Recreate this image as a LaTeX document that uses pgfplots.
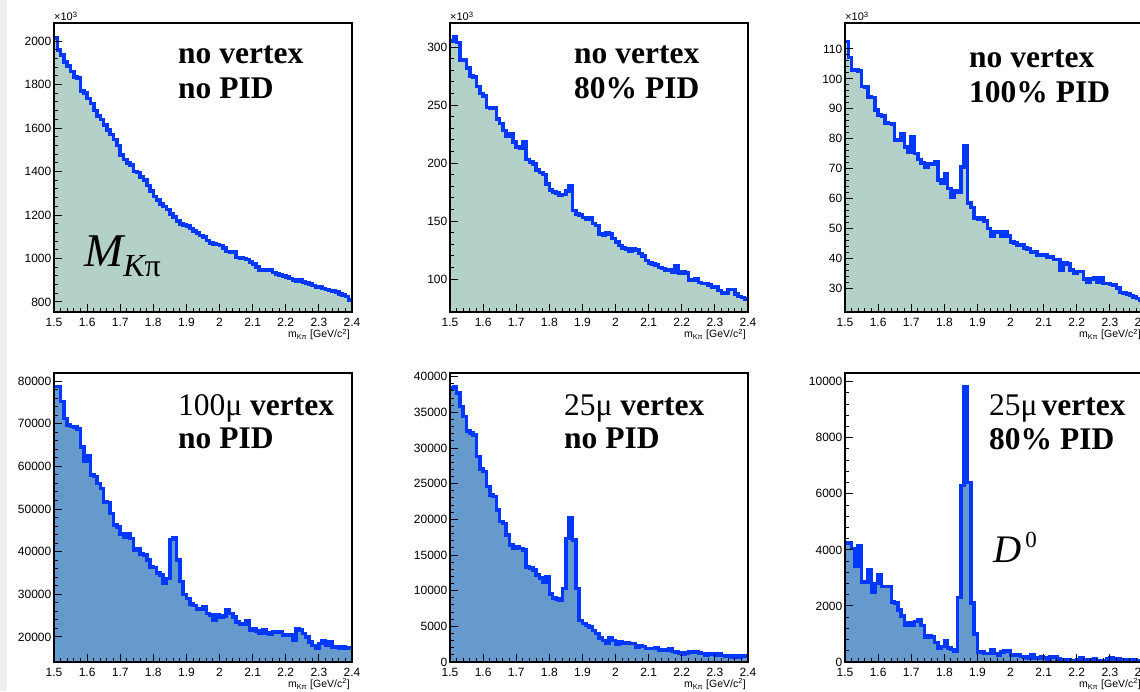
\documentclass[border=0pt]{standalone}
\usepackage{fontspec}
\setmainfont{Liberation Serif}
\newfontfamily\helv{Liberation Sans}
\usepackage{pgfplots}
\usepackage{pgfplotstable}
\pgfplotsset{compat=1.18}

\definecolor{fillg}{HTML}{B3D1C8}
\definecolor{fillb}{HTML}{6699CC}
\definecolor{hline}{HTML}{0038FF}

% bin left edges (0.01 wide), last row closes the final bin
% p1-p3 in units of 10^3
\pgfplotstableread{
x    p1   p2  p3    p4    p5    p6
1.50 2015 305 112.5 78700 38400 4250
1.51 1960 309 107.2 78700 38600 4250
1.52 1935 304 103   75200 37700 4050
1.53 1905 289 103   71200 35800 3400
1.54 1885 289 102.7 69700 34400 4150
1.55 1860 282 97.4  69400 32400 2850
1.56 1835 275 97.2  69300 32100 2850
1.57 1830 274 94    68800 31800 3280
1.58 1770 266 93.8  64500 28800 2500
1.59 1760 260 89.6  61200 27100 2800
1.60 1735 258 87.9  62400 26700 3100
1.61 1712 248 87.5  58000 24600 2700
1.62 1680 247 85.3  57600 23400 2700
1.63 1655 248 85.1  56000 23200 2700
1.64 1640 238 84.9  54800 21300 2150
1.65 1615 234 79.5  51700 19700 2100
1.66 1590 228 79.5  51500 19400 1850
1.67 1570 223 81.7  49000 17800 1650
1.68 1548 225 77.3  46200 16400 1300
1.69 1520 218 75.5  45800 15900 1400
1.70 1475 214 80.5  44200 16100 1300
1.71 1455 213 75    43500 15900 1450
1.72 1440 218 73    44300 15700 1500
1.73 1430 203 71.9  43100 13300 1300
1.74 1400 201 70.6  40300 13200 900
1.75 1395 199 71.5  40700 12900 950
1.76 1375 194 71.5  39500 12200 900
1.77 1360 192 72.2  39200 11800 700
1.78 1335 190 66.1  38000 11200 500
1.79 1310 182 65    36400 12000 550
1.80 1285 177 68.3  36300 9500  750
1.81 1268 175 63.3  35000 9000  500
1.82 1250 174 60.5  34500 8800  450
1.83 1240 172 62.7  32500 8700  400
1.84 1225 173 62.2  33700 10300 2300
1.85 1205 176 70.5  42900 17300 6300
1.86 1190 180 77.5  43300 20200 9800
1.87 1172 159 58.5  38000 17100 6400
1.88 1160 156 57    33000 10300 2100
1.89 1155 155 53.5  30000 5800  1000
1.90 1150 153 53    29000 5400  350
1.91 1138 152 53.5  27800 5100  350
1.92 1126 153 52.5  27400 4900  300
1.93 1116 148 50    26600 4400  300
1.94 1106 146 47.5  26600 4000  450
1.95 1098 139 49    27000 3400  300
1.96 1082 138 48.8  25500 3000  250
1.97 1072 140 47.5  25100 2600  350
1.98 1068 139 48.8  23900 3400  400
1.99 1064 135 47.5  25100 3000  400
2.00 1060 132 45.5  24700 2500  250
2.01 1048 129 45    24900 2800  250
2.02 1032 127 44.5  26300 2700  250
2.03 1030 126 44.5  25500 2700  200
2.04 1030 124 43.5  24700 2600  180
2.05 1005 126 43    23500 2600  130
2.06 1002 125 42    23100 2100  250
2.07 1000 122 42    23100 2300  150
2.08 995  120 41    23900 2200  120
2.09 985  116 41    21600 1900  200
2.10 975  114 41    22000 1900  150
2.11 962  113 40.5  21400 1900  100
2.12 948  112 40.5  20800 2000  180
2.13 945  110 39.5  21600 1600  180
2.14 946  109 39.5  21000 1700  100
2.15 950  108 36    20600 1700  80
2.16 935  108 38.5  21200 1900  80
2.17 930  106 38    21200 1500  80
2.18 924  111 36    21200 1400  50
2.19 920  105 35    20400 1300  60
2.20 916  106 35.5  20400 1100  80
2.21 908  105 35.5  20400 1300  150
2.22 900  99  33    19200 1400  80
2.23 896  99  32    22000 1500  50
2.24 900  100 33    21600 1400  80
2.25 893  97  33.5  20800 1300  120
2.26 888  96  32    20000 1200  50
2.27 882  96  33.5  18800 900   50
2.28 876  95  31.5  18000 1100  60
2.29 870  93  31.5  17300 1100  100
2.30 868  93  31.2  18500 900   150
2.31 862  90  31    19200 1100  80
2.32 858  88  30    18000 900   100
2.33 852  88  28.5  18800 800   50
2.34 850  91  28.3  17700 900   80
2.35 845  91  28    17800 700   70
2.36 838  87  27.5  17300 800   50
2.37 832  85  27    17700 700   80
2.38 825  84  26.5  17300 800   60
2.39 810  83  26    17500 800   50
2.40 810  83  26    17500 800   50
}\hist

\pgfplotsset{
  rootax/.style={
    scale only axis, width=298pt, height=289pt, anchor=south west,
    xmin=1.5, xmax=2.4,
    xtick={1.5,1.6,1.7,1.8,1.9,2,2.1,2.2,2.3,2.4},
    minor x tick num=4, minor y tick num=4,
    tick align=inside, xtick pos=bottom, ytick pos=left,
    major tick length=8pt, minor tick length=4pt,
    every tick/.append style={black, line width=1pt},
    axis line style={line width=1.2pt},
    axis on top,
    scaled ticks=false,
    /pgf/number format/1000 sep={},
    /pgf/number format/assume math mode=true,
    tick label style={font=\helv\fontsize{12}{12}\selectfont},
    xticklabel style={yshift=-3pt},
    yticklabel style={inner sep=0pt, xshift=-2.5pt},
  },
}
\newcommand\lab{\fontsize{31.5}{31.5}\selectfont\bfseries}
\newcommand\xlab{\helv\fontsize{10.5}{10.5}\selectfont m\textsubscript{Kπ} [GeV/c\textsuperscript{2}]}
\newcommand\kilo{\helv\fontsize{11}{11}\selectfont ×10\textsuperscript{3}}

\begin{document}
\begin{tikzpicture}
\path[use as bounding box] (0pt,0pt) rectangle (1140pt,691pt);
\fill[gray!13] (0pt,0pt) rectangle (7pt,691pt);

% ---- top row: no vertex cut
\begin{axis}[rootax, at={(54pt,379pt)}, ymin=754, ymax=2083, ytick={800,1000,...,2000}]
\addplot[fill=fillg, draw=none, const plot] table[x=x, y=p1]{\hist} \closedcycle;
\addplot[hline, line width=3.6pt, const plot] table[x=x, y=p1]{\hist};
\end{axis}
\begin{axis}[rootax, at={(450pt,379pt)}, ymin=71.6, ymax=320.7, ytick={100,150,...,300}]
\addplot[fill=fillg, draw=none, const plot] table[x=x, y=p2]{\hist} \closedcycle;
\addplot[hline, line width=3.6pt, const plot] table[x=x, y=p2]{\hist};
\end{axis}
\begin{axis}[rootax, at={(845pt,379pt)}, ymin=22, ymax=118.7, ytick={30,40,...,110}]
\addplot[fill=fillg, draw=none, const plot] table[x=x, y=p3]{\hist} \closedcycle;
\addplot[hline, line width=3.6pt, const plot] table[x=x, y=p3]{\hist};
\end{axis}

% ---- bottom row: vertex cut
\begin{axis}[rootax, at={(54pt,29pt)}, ymin=14130, ymax=81900, ytick={20000,30000,...,80000}]
\addplot[fill=fillb, draw=none, const plot] table[x=x, y=p4]{\hist} \closedcycle;
\addplot[hline, line width=3.6pt, const plot] table[x=x, y=p4]{\hist};
\end{axis}
\begin{axis}[rootax, at={(450pt,29pt)}, ymin=0, ymax=40520, ytick={0,5000,...,40000}]
\addplot[fill=fillb, draw=none, const plot] table[x=x, y=p5]{\hist} \closedcycle;
\addplot[hline, line width=3.6pt, const plot] table[x=x, y=p5]{\hist};
\end{axis}
\begin{axis}[rootax, at={(845pt,29pt)}, ymin=0, ymax=10310, ytick={0,2000,...,10000}]
\addplot[fill=fillb, draw=none, const plot] table[x=x, y=p6]{\hist} \closedcycle;
\addplot[hline, line width=3.6pt, const plot] table[x=x, y=p6]{\hist};
\end{axis}

% axis extras
\foreach \xx in {54,450,845} {
  \node[anchor=base west, inner sep=0pt] at (\xx pt,670pt) {\kilo};
  \node[anchor=base east, inner sep=0pt] at (\xx pt+296pt,353pt) {\xlab};
  \node[anchor=base east, inner sep=0pt] at (\xx pt+296pt,3.5pt) {\xlab};
}

% annotations
\node[anchor=base west, inner sep=0pt, font=\lab] at (178pt,627pt) {no vertex};
\node[anchor=base west, inner sep=0pt, font=\lab] at (178pt,592pt) {no PID};
\node[anchor=base west, inner sep=0pt, font=\lab] at (574pt,627pt) {no vertex};
\node[anchor=base west, inner sep=0pt, font=\lab] at (574pt,592pt) {80\% PID};
\node[anchor=base west, inner sep=0pt, font=\lab] at (969pt,623pt) {no vertex};
\node[anchor=base west, inner sep=0pt, font=\lab] at (969pt,588pt) {100\% PID};
\node[anchor=base west, inner sep=0pt, font=\lab] at (178pt,275pt) {\mdseries 100μ \bfseries vertex};
\node[anchor=base west, inner sep=0pt, font=\lab] at (178pt,242pt) {no PID};
\node[anchor=base west, inner sep=0pt, font=\lab] at (564pt,275pt) {\mdseries 25μ \bfseries vertex};
\node[anchor=base west, inner sep=0pt, font=\lab] at (564pt,242pt) {no PID};
\node[anchor=base west, inner sep=0pt, font=\lab] at (989pt,275pt) {\mdseries 25μ\hspace{4pt}\bfseries vertex};
\node[anchor=base west, inner sep=0pt, font=\lab] at (989pt,241pt) {80\% PID};

\node[anchor=base west, inner sep=0pt] at (84pt,424pt)
  {\fontsize{47}{47}\selectfont\itshape M\raisebox{-10pt}{\fontsize{32}{32}\selectfont K\upshape π}};
\node[anchor=base west, inner sep=0pt] at (993pt,129pt)
  {\fontsize{39}{39}\selectfont\itshape D\hspace{4pt}\raisebox{15pt}{\upshape\fontsize{23}{23}\selectfont 0}};
\end{tikzpicture}
\end{document}
